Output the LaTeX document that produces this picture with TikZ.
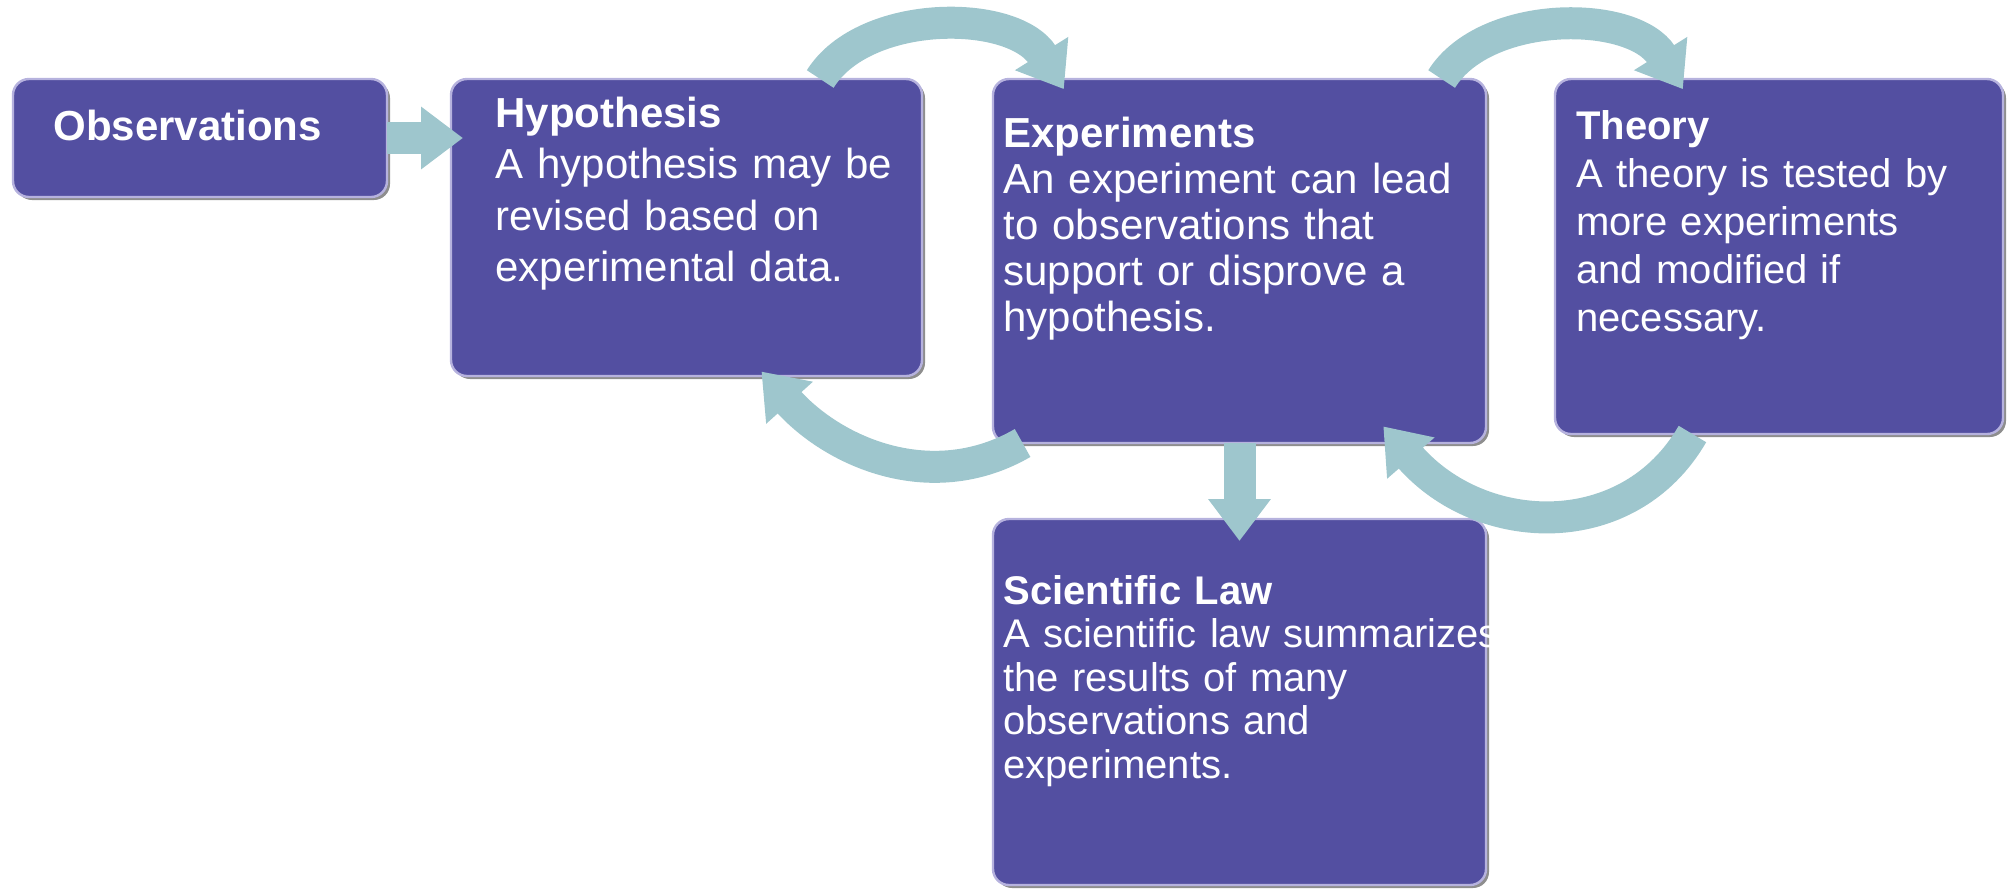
\documentclass[tikz,border=0pt]{standalone}
\usepackage{fontspec}
\setmainfont{Liberation Sans}
\usetikzlibrary{arrows.meta, positioning, shadows}
\definecolor{cardFill}{HTML}{534FA1}
\definecolor{cardEdge}{HTML}{B6B2DE}
\definecolor{cardShadow}{HTML}{8E8E8E}
\definecolor{flowArrow}{HTML}{9EC6CD}

\begin{document}
\begin{tikzpicture}[
    card/.style={rectangle, rounded corners=8pt, fill=cardFill, draw=cardEdge,
                 line width=1.2pt, inner sep=0pt, outer sep=0pt,
                 drop shadow={shadow xshift=1.5pt, shadow yshift=-1.5pt,
                              fill=cardShadow, opacity=1}},
    cardtext/.style={text=white, align=left, text width=250pt, inner sep=0pt,
                     anchor=base west},
    flow/.style={line width=16pt, flowArrow,
                 -{Triangle[length=21pt, width=30pt]}}
  ]
    \useasboundingbox (0,0) rectangle (1004pt,-445pt);

    % boxes
    \node[card, minimum width=187pt, minimum height=59pt, anchor=north west]
      (obs) at (6.5pt,-39.5pt) {};
    \node[card, minimum width=235.5pt, minimum height=148.5pt,
          right=32pt of obs.north east, anchor=north west] (hyp) {};
    \node[card, minimum width=246.5pt, minimum height=182pt,
          right=35.5pt of hyp.north east, anchor=north west] (exp) {};
    \node[card, minimum width=224pt, minimum height=177.5pt,
          right=34.5pt of exp.north east, anchor=north west] (theory) {};
    \node[card, minimum width=246.5pt, minimum height=183pt,
          below=38pt of exp] (law) {};

    % texts
    \node[below right=30.5pt and 20pt of obs.north west, cardtext,
          font=\fontsize{21pt}{25pt}\selectfont\bfseries] (obstext) {Observations};
    \node[below right=24pt and 22pt of hyp.north west, cardtext,
          font=\fontsize{21pt}{25.75pt}\selectfont] (hyptext)
      {\textbf{Hypothesis}\\ A hypothesis may be\\ revised based on\\ experimental data.};
    \node[below right=34pt and 5pt of exp.north west, cardtext,
          font=\fontsize{21pt}{23pt}\selectfont] (exptext)
      {\textbf{Experiments}\\ An experiment can lead\\ to observations that\\
       support or disprove a\\ hypothesis.};
    \node[below right=30pt and 10.5pt of theory.north west, cardtext,
          font=\fontsize{20pt}{24pt}\selectfont] (theorytext)
      {\textbf{Theory}\\ A theory is tested by\\ more experiments\\
       and modified if\\ necessary.};
    \node[below right=42.5pt and 5pt of law.north west, cardtext,
          font=\fontsize{20pt}{21.75pt}\selectfont] (lawtext)
      {\textbf{Scientific Law}\\ A scientific law summarizes\\ the results of many\\
       observations and\\ experiments.};

    % arrows
    \draw[flow, shorten >=-6pt] (obs.east) -- (obs.east -| hyp.west);
    \draw[flow, shorten >=-6pt] (hyp.48) to[out=58, in=122, looseness=0.9] (exp.135);
    \draw[flow, shorten >=-3pt] (exp.220) to[out=210, in=-48] (hyp.298);
    \draw[flow, shorten >=-6pt] (exp.42) to[out=58, in=122, looseness=0.9] (theory.120);
    \draw[flow, shorten >=-11pt] (theory.244) to[out=240, in=-49, looseness=1.1] (exp.311);
    \draw[flow, shorten >=-11pt] (exp) -- (law);
  \end{tikzpicture}
\end{document}
